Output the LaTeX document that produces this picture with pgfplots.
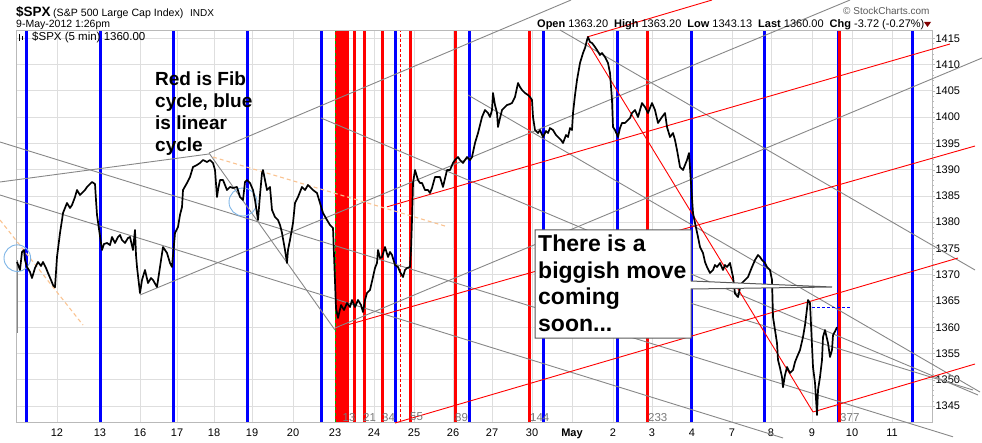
\documentclass[border=0pt]{standalone}
\usepackage{fontspec}
\setmainfont{Liberation Sans}
\usepackage{pgfplots}
\usepackage{pgfplotstable}
\pgfplotsset{compat=1.18}

\definecolor{gridgray}{RGB}{222,222,222}
\definecolor{framegray}{RGB}{185,185,185}
\definecolor{trendgray}{RGB}{135,135,135}
\definecolor{fiborange}{RGB}{250,195,145}
\definecolor{circleblue}{RGB}{125,180,230}
\definecolor{fibtext}{RGB}{120,120,120}
\definecolor{chgred}{RGB}{128,0,0}
\definecolor{linblue}{RGB}{0,0,255}
\definecolor{fibred}{RGB}{255,0,0}

\newcommand{\fs}[1]{\fontsize{#1}{#1}\selectfont}
\tikzset{fibnum/.style={anchor=west, text=fibtext, font=\fs{11.5}, inner sep=0pt}}

% $SPX 5-minute closes (x = time position along the chart, p = price)
\pgfplotstableread{
x p
17 1372.42
20 1370.90
22 1374.32
24 1374.70
25 1372.80
27 1371.47
30 1370.52
32 1369.37
35 1371.28
38 1372.42
41 1371.66
43 1372.42
46 1371.28
48 1370.33
51 1368.99
53 1368.04
55 1367.60
57 1373.37
60 1377.94
62 1380.41
63 1381.75
67 1383.65
70 1382.70
72 1383.27
75 1384.79
77 1386.12
80 1385.17
82 1385.55
85 1386.12
87 1386.70
90 1387.27
92 1387.65
95 1387.27
96 1384.22
97 1381.37
98 1380.03
102 1374.70
104 1375.84
107 1376.04
110 1375.65
112 1377.18
115 1376.04
118 1377.18
120 1377.56
122 1376.61
125 1376.04
128 1376.99
130 1377.18
133 1374.70
135 1378.51
136 1373.75
137 1371.47
140 1366.50
142 1368.99
145 1370.90
148 1368.42
151 1369.37
153 1368.99
157 1367.66
160 1371.47
163 1375.27
165 1374.70
167 1374.13
170 1372.23
172 1371.47
175 1377.94
178 1379.08
180 1381.37
182 1382.89
183 1386.12
187 1387.46
190 1388.60
193 1390.51
197 1390.89
200 1391.27
203 1391.83
207 1391.45
210 1391.83
213 1391.27
215 1389.93
217 1384.80
218 1386.12
220 1388.03
223 1388.03
227 1386.12
230 1386.70
233 1386.51
237 1386.70
240 1384.79
243 1384.22
245 1387.65
247 1388.03
250 1387.46
253 1386.12
255 1384.22
258 1380.41
260 1385.17
262 1389.36
263 1389.93
265 1388.03
267 1386.12
270 1386.70
272 1382.32
275 1380.98
278 1380.41
280 1379.46
282 1377.94
285 1374.70
287 1372.23
288 1374.70
290 1376.61
293 1379.84
295 1383.65
298 1384.79
302 1386.70
305 1386.12
308 1387.08
310 1386.70
313 1386.12
317 1385.55
320 1383.65
323 1381.75
327 1380.41
330 1379.46
333 1378.89
336 1363.66
338 1361.76
341 1364.23
344 1363.28
347 1364.61
350 1363.85
352 1365.18
355 1363.85
358 1365.18
361 1364.23
363 1362.90
365 1365.18
367 1366.52
370 1367.09
373 1369.56
375 1371.28
377 1372.23
378 1374.70
380 1373.18
382 1373.37
385 1375.27
388 1373.37
390 1374.32
392 1373.75
395 1371.85
398 1371.47
400 1370.52
403 1369.56
405 1370.90
407 1371.28
410 1371.47
411 1374.70
412 1380.41
413 1387.46
415 1389.93
418 1388.03
420 1387.46
422 1387.46
425 1386.12
428 1386.12
430 1385.55
432 1386.51
435 1388.60
438 1388.60
440 1388.60
443 1386.70
447 1389.93
450 1389.93
453 1391.27
455 1391.83
458 1392.40
460 1391.83
463 1391.27
467 1392.40
470 1391.83
472 1392.40
475 1395.07
478 1396.97
480 1398.50
482 1400.02
485 1401.35
488 1400.78
490 1400.02
492 1401.35
493 1404.59
495 1402.30
497 1400.78
498 1398.12
500 1399.83
502 1401.35
505 1401.92
507 1402.30
510 1402.49
512 1402.68
515 1403.83
518 1406.49
520 1405.73
522 1405.16
525 1404.59
528 1404.21
530 1403.83
532 1403.25
533 1400.02
535 1397.54
538 1396.97
540 1397.54
543 1396.21
546 1397.35
548 1396.97
550 1397.92
553 1397.54
556 1396.59
558 1396.21
561 1395.64
563 1395.07
566 1396.59
568 1396.21
570 1397.92
572 1397.54
573 1400.78
575 1404.21
577 1407.06
580 1410.30
583 1412.20
585 1413.16
587 1414.68
588 1415.25
590 1414.30
592 1414.11
595 1413.35
597 1412.77
600 1411.82
602 1412.20
605 1411.44
608 1410.30
610 1408.40
612 1403.25
613 1398.12
615 1397.54
618 1396.21
620 1397.92
622 1398.88
625 1398.88
628 1399.45
630 1399.83
632 1400.78
635 1401.35
638 1400.02
640 1401.35
642 1402.68
645 1401.92
648 1400.78
650 1401.73
652 1402.68
655 1401.35
658 1398.88
660 1399.45
662 1400.02
665 1400.78
667 1398.12
670 1396.21
673 1396.97
675 1395.64
677 1393.74
680 1390.51
683 1389.93
685 1390.89
687 1391.83
689 1393.16
693 1381.75
695 1379.84
698 1377.18
700 1375.27
703 1374.13
705 1372.42
707 1371.47
710 1370.33
713 1370.90
715 1371.85
717 1371.47
720 1372.23
723 1370.90
725 1371.85
727 1371.47
730 1372.23
733 1369.56
735 1366.40
738 1365.75
740 1367.47
742 1368.42
745 1368.99
748 1369.56
750 1370.52
752 1371.47
755 1372.80
758 1373.75
760 1373.37
762 1372.80
765 1372.23
767 1371.47
770 1370.90
772 1368.99
773 1361.95
775 1359.47
777 1356.99
778 1353.76
780 1352.24
782 1350.50
783 1348.60
785 1350.91
787 1352.43
790 1351.29
793 1351.86
795 1353.38
797 1354.33
800 1355.67
803 1358.14
805 1360.42
806 1361.95
808 1365.18
810 1364.61
813 1352.43
815 1349.39
817 1343.30
818 1348.05
820 1350.53
822 1353.76
823 1358.14
825 1359.47
828 1356.99
830 1354.33
832 1355.67
833 1358.50
835 1359.20
837 1360.00
}\spx

\begin{document}
\begin{tikzpicture}
\path[use as bounding box] (0,0) rectangle (982pt,442pt);
\begin{axis}[
  at={(16pt,20pt)}, anchor=south west,
  scale only axis, width=916pt, height=391.3pt,
  xmin=16, xmax=932, ymin=1341.96, ymax=1416.45,
  clip=false,
  axis line style={framegray, line width=0.8pt},
  xtick={57,100,140,177,214,252,293,335,374,414,453,492,532,572,613,652,692,732,771,812,852,892},
  xticklabels={12,13,16,17,18,19,20,23,24,25,26,27,30,\textbf{May},2,3,4,7,8,9,10,11},
  ytick={1345,1350,...,1415},
  minor y tick num=4,
  xtick pos=bottom, ytick pos=right, yticklabel pos=right,
  tick align=outside,
  xtick style={draw=none},
  ytick style={framegray},
  major tick length=3pt, minor tick length=2pt,
  grid=major, major grid style={gridgray, line width=0.8pt},
  ticklabel style={font=\fs{11}, text=black},
  xticklabel style={yshift=0pt},
  yticklabel style={xshift=-3pt},
  /pgf/number format/assume math mode=true,
  /pgf/number format/1000 sep={},
]
% linear (blue) cycle lines
\pgfplotsinvokeforeach{26,100,173.3,247.3,321.5,395.5,469,543.3,617.3,691.3,764.3,838.3,912.3}{
  \addplot[linblue, line width=3pt] coordinates {(#1,1341.96) (#1,1416.45)};
}
% Fibonacci (red) cycle lines
\pgfplotsinvokeforeach{336.5,338,339.5,342,344,347.3,354.3,364.3,382.3,410.5,455.3,529.5,647.5,839.5}{
  \addplot[fibred, line width=3.3pt] coordinates {(#1,1341.96) (#1,1416.45)};
}
\addplot[green!70!black, line width=0.7pt, dashed] coordinates {(335.2,1341.96) (335.2,1416.45)};
\addplot[fibred, line width=1pt, dash pattern=on 3pt off 2pt] coordinates {(400,1341.96) (400,1416.45)};

% gray trend lines
\addplot[trendgray, line width=0.9pt] coordinates {(0,1387.65) (209,1392.98)};
\addplot[trendgray, line width=0.9pt] coordinates {(209,1393.16) (571,1422.29)};
\addplot[trendgray, line width=0.9pt] coordinates {(140,1366.14) (850,1422.29)};
\addplot[trendgray, line width=0.9pt] coordinates {(335,1359.85) (982,1411.25)};
\addplot[trendgray, line width=0.9pt] coordinates {(0,1395.26) (953,1339.14)};
\addplot[trendgray, line width=0.9pt] coordinates {(0,1385.17) (783,1338.92)};
\addplot[trendgray, line width=0.9pt] coordinates {(209,1393.16) (335,1359.47)};
\addplot[trendgray, line width=0.9pt] coordinates {(468,1404.21) (980,1347.67)};
\addplot[trendgray, line width=0.9pt] coordinates {(560,1416.58) (975,1370.90)};
\addplot[trendgray, line width=0.9pt] coordinates {(690,1364.61) (973,1348.05)};
\addplot[trendgray, line width=0.9pt] coordinates {(17,1372.80) (17,1358.90)};
\addplot[trendgray, line width=0.9pt] coordinates {(321,1399.83) (978,1347.10)};
% red trend lines
\addplot[fibred, line width=0.9pt] coordinates {(387,1382.92) (950,1413.92)};
\addplot[fibred, line width=0.9pt] coordinates {(340,1360.04) (975,1394.50)};
\addplot[fibred, line width=0.9pt] coordinates {(395,1341.77) (958,1373.18)};
\addplot[fibred, line width=0.9pt] coordinates {(813,1343.87) (975,1353.00)};
\addplot[fibred, line width=0.9pt] coordinates {(588,1414.11) (813,1343.87)};
\addplot[fibred, line width=0.9pt] coordinates {(587,1415.25) (712,1422.29)};
% orange dashed lines
\addplot[fiborange, line width=1.1pt, dash pattern=on 4pt off 3pt] coordinates {(0,1380.41) (83,1360.42)};
\addplot[fiborange, line width=1.1pt, dash pattern=on 4pt off 3pt] coordinates {(213,1392.40) (445,1379.27)};
% blue dashed level
\addplot[linblue, line width=0.9pt, dash pattern=on 3pt off 2pt] coordinates {(812,1363.85) (850,1363.85)};

\draw[circleblue, line width=0.9pt] (axis cs:17.3,1373.15) circle[radius=13.3pt];
\draw[circleblue, line width=0.9pt] (axis cs:243,1383.84) circle[radius=14pt];

% price
\addplot[black, line width=1.7pt, line join=round] table[x=x,y=p]{\spx};

% fib counts
\node[fibnum] at (axis cs:342.5,1342.9) {13};
\node[fibnum] at (axis cs:363,1342.9) {21};
\node[fibnum] at (axis cs:382,1342.9) {34};
\node[fibnum] at (axis cs:410,1342.9) {55};
\node[fibnum] at (axis cs:455,1342.9) {89};
\node[fibnum] at (axis cs:530,1342.9) {144};
\node[fibnum] at (axis cs:648,1342.9) {233};
\node[fibnum] at (axis cs:840,1342.9) {377};
\end{axis}

\begin{scope}[x=1pt,y=-1pt,shift={(0pt,442pt)}]
% header
\node[anchor=base west, inner sep=0pt, font=\fs{13.5}\bfseries] at (16,16.5) {\$SPX};
\node[anchor=base west, inner sep=0pt, font=\fs{10.6}] at (53,16.5) {(S\&P 500 Large Cap Index)};
\node[anchor=base west, inner sep=0pt, font=\fs{10}] at (190,16.5) {INDX};
\node[anchor=base west, inner sep=0pt, font=\fs{10.5}] at (16,27.5) {9-May-2012 1:26pm};
\node[anchor=base west, inner sep=0pt, text=black!65, font=\fs{10}] at (843,15) {© StockCharts.com};
\node[anchor=base west, inner sep=0pt, font=\fs{11}] at (537,27.7) {\textbf{Open} 1363.20\hspace{6pt}\textbf{High} 1363.20\hspace{6pt}\textbf{Low} 1343.13\hspace{6pt}\textbf{Last} 1360.00\hspace{6pt}\textbf{Chg} -3.72 (-0.27\%)};
\fill[chgred] (924,22) -- (931,22) -- (927.5,27) -- cycle;
% in-plot legend
\fill[black] (18.5,34) rectangle (20,41);
\fill[black] (21.5,36) rectangle (23,40);
\node[anchor=base west, inner sep=0pt, font=\fs{11.5}] at (32,40.5) {\$SPX (5 min) 1360.00};
% annotation
\node[anchor=base west, inner sep=0pt, font=\fs{19}\bfseries] at (155,86) {Red is Fib};
\node[anchor=base west, inner sep=0pt, font=\fs{19}\bfseries] at (155,108) {cycle, blue};
\node[anchor=base west, inner sep=0pt, font=\fs{19}\bfseries] at (155,130) {is linear};
\node[anchor=base west, inner sep=0pt, font=\fs{19}\bfseries] at (155,152) {cycle};
% callout box
\draw[black!65, fill=white, line width=1pt] (535,230) -- (691,230) -- (691,281) -- (832,287) -- (691,289) -- (691,338) -- (535,338) -- cycle;
\node[anchor=base west, inner sep=0pt, font=\fs{23}\bfseries] at (538,251.7) {There is a};
\node[anchor=base west, inner sep=0pt, font=\fs{23}\bfseries] at (538,278.2) {biggish move};
\node[anchor=base west, inner sep=0pt, font=\fs{23}\bfseries] at (538,304.7) {coming};
\node[anchor=base west, inner sep=0pt, font=\fs{23}\bfseries] at (538,331.2) {soon...};
\end{scope}
\end{tikzpicture}
\end{document}
